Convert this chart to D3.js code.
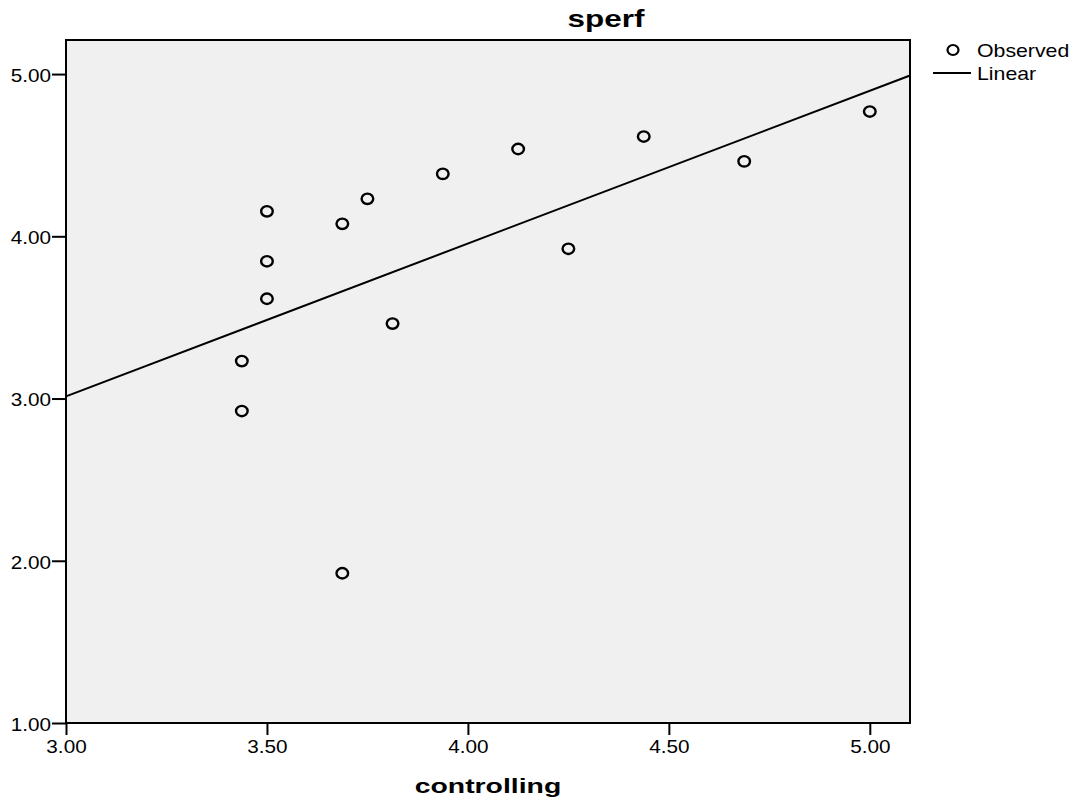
<!DOCTYPE html>
<html>
<head>
<meta charset="utf-8">
<script src="https://cdn.jsdelivr.net/npm/d3@7"></script>
<style>
  body { margin: 0; background: #fff; }
  text { font-family: "Liberation Sans", Arial, sans-serif; fill: #000; }
</style>
</head>
<body>
<svg id="chart" width="1075" height="803"></svg>
<script>
// observed values (controlling, sperf)
var controlling = [3.5, 3.5, 3.5, 3.4375, 3.4375, 3.6875, 3.6875, 3.75, 3.8125, 3.9375, 4.125, 4.25, 4.4375, 4.6875, 5.0];
var sperf = [4.154, 3.846, 3.615, 3.231, 2.923, 4.077, 1.923, 4.231, 3.462, 4.385, 4.538, 3.923, 4.615, 4.462, 4.769];
var xTicks = [3.0, 3.5, 4.0, 4.5, 5.0];
var yTicks = [1.0, 2.0, 3.0, 4.0, 5.0];
var legendLabels = ["Observed", "Linear"];

var margin = {top: 40, right: 165, bottom: 80, left: 66};
var width = 1075 - margin.left - margin.right;
var height = 803 - margin.top - margin.bottom;

// the original font is drawn a bit wider than Liberation Sans
function stretch(sel, k) {
  sel.each(function() {
    var w = this.getComputedTextLength();
    d3.select(this).attr("textLength", w * k).attr("lengthAdjust", "spacingAndGlyphs");
  });
}

var svg = d3.select("#chart");
var g = svg.append("g")
    .attr("transform", "translate(" + margin.left + "," + margin.top + ")");

var x = d3.scaleLinear().domain([3.0, 5.1]).range([0, width]);
var y = d3.scaleLinear().domain([1.0, 5.21]).range([height, 0]);

g.append("rect")
    .attr("width", width)
    .attr("height", height)
    .attr("fill", "#f0f0f0");

// least squares fit
var data = controlling.map(function(d, i) { return {x: d, y: sperf[i]}; });
var mx = d3.mean(controlling), my = d3.mean(sperf);
var sxy = d3.sum(data, function(d) { return (d.x - mx) * (d.y - my); });
var sxx = d3.sum(data, function(d) { return (d.x - mx) * (d.x - mx); });
var slope = sxy / sxx, icpt = my - slope * mx;
var xd = x.domain();

g.append("line")
    .attr("x1", x(xd[0])).attr("y1", y(icpt + slope * xd[0]))
    .attr("x2", x(xd[1])).attr("y2", y(icpt + slope * xd[1]))
    .attr("stroke", "#000")
    .attr("stroke-width", 2);

g.selectAll(".pt")
    .data(data)
    .enter().append("ellipse")
    .attr("class", "pt")
    .attr("cx", function(d) { return x(d.x); })
    .attr("cy", function(d) { return y(d.y); })
    .attr("rx", 5.8)
    .attr("ry", 5.2)
    .attr("fill", "none")
    .attr("stroke", "#000")
    .attr("stroke-width", 2.4);

// frame
g.append("rect")
    .attr("width", width)
    .attr("height", height)
    .attr("fill", "none")
    .attr("stroke", "#000")
    .attr("stroke-width", 2);

var xAxis = g.append("g")
    .attr("transform", "translate(0," + height + ")")
    .call(d3.axisBottom(x).tickValues(xTicks).tickFormat(d3.format(".2f")).tickSize(12).tickPadding(5));
var yAxis = g.append("g")
    .call(d3.axisLeft(y).tickValues(yTicks).tickFormat(d3.format(".2f")).tickSize(14).tickPadding(1));

[xAxis, yAxis].forEach(function(a) {
  a.select(".domain").remove();
  a.selectAll(".tick line").attr("stroke", "#000").attr("stroke-width", 2);
  a.selectAll(".tick text")
      .attr("fill", "#000")
      .style("font-size", "18.5px")
      .style("font-family", "Liberation Sans, Arial, sans-serif");
  stretch(a.selectAll(".tick text"), 1.12);
});
yAxis.selectAll(".tick text").attr("dy", "0.4em");

svg.append("text")
    .attr("x", 606)
    .attr("y", 27)
    .attr("text-anchor", "middle")
    .style("font-size", "24px")
    .style("font-weight", "bold")
    .text("sperf")
    .call(stretch, 1.31);

svg.append("text")
    .attr("x", margin.left + width / 2)
    .attr("y", 793)
    .attr("text-anchor", "middle")
    .style("font-size", "21px")
    .style("font-weight", "bold")
    .text("controlling")
    .call(stretch, 1.35);

// legend
var legend = svg.append("g");
legend.append("ellipse")
    .attr("cx", 953).attr("cy", 50).attr("rx", 5.5).attr("ry", 5)
    .attr("fill", "none").attr("stroke", "#000").attr("stroke-width", 2.2);
legend.append("line")
    .attr("x1", 933).attr("x2", 971).attr("y1", 73).attr("y2", 73)
    .attr("stroke", "#000").attr("stroke-width", 2);
legend.selectAll("text.lg")
    .data(legendLabels)
    .enter().append("text")
    .attr("class", "lg")
    .attr("x", 977)
    .attr("y", function(d, i) { return 57 + i * 23; })
    .style("font-size", "19px")
    .text(function(d) { return d; })
    .call(stretch, 1.12);
</script>
</body>
</html>
